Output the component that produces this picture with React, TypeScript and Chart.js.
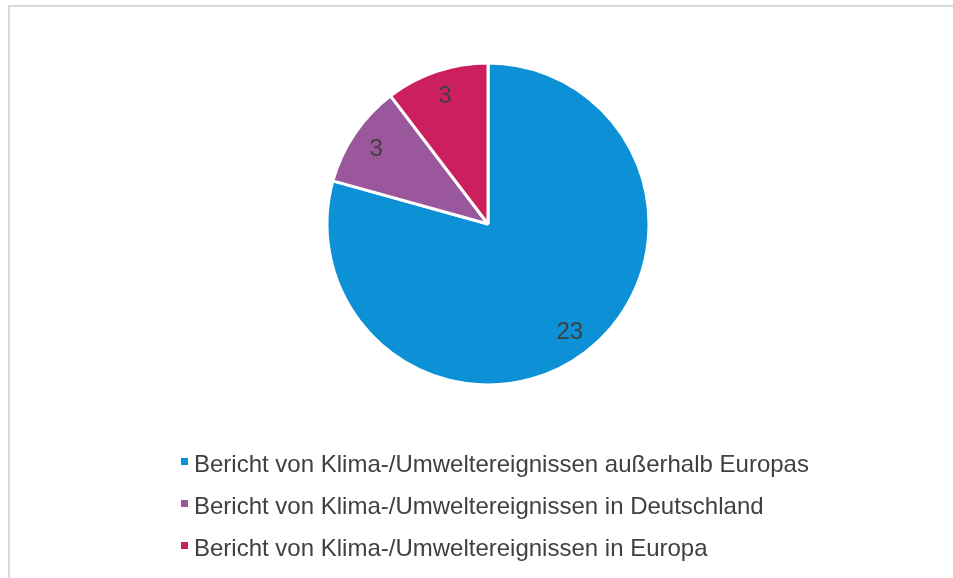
import React, { useEffect, useRef } from "react";
import { Chart, registerables } from "chart.js";

Chart.register(...registerables);

const categories = [
  "Bericht von Klima-/Umweltereignissen außerhalb Europas",
  "Bericht von Klima-/Umweltereignissen in Deutschland",
  "Bericht von Klima-/Umweltereignissen in Europa",
];
const values = [23, 3, 3];
const colors = ["#0C90D6", "#9B579C", "#CC1F5D"];

const FONT = "'Liberation Sans', Arial, sans-serif";
const TEXT = "#404040";

const labelPlugin = {
  id: "pieLabels",
  afterDatasetsDraw(chart: any) {
    const ctx = chart.ctx;
    const meta = chart.getDatasetMeta(0);
    ctx.save();
    ctx.font = `24px ${FONT}`;
    ctx.fillStyle = TEXT;
    ctx.textAlign = "center";
    ctx.textBaseline = "middle";
    meta.data.forEach((arc: any, i: number) => {
      const { x, y, startAngle, endAngle, outerRadius } = arc.getProps(
        ["x", "y", "startAngle", "endAngle", "outerRadius"],
        true
      );
      const mid = (startAngle + endAngle) / 2;
      const r = outerRadius * 0.84;
      ctx.fillText(String(chart.data.datasets[0].data[i]), x + Math.cos(mid) * r, y + Math.sin(mid) * r + 1);
    });
    ctx.restore();
  },
};

const legendPlugin = {
  id: "vertLegend",
  afterDraw(chart: any) {
    const ctx = chart.ctx;
    const labels: string[] = chart.data.labels;
    const bg: string[] = chart.data.datasets[0].backgroundColor;
    ctx.save();
    ctx.font = `24px ${FONT}`;
    ctx.textBaseline = "alphabetic";
    ctx.textAlign = "left";
    const x0 = 171;
    const base0 = 465;
    const step = 42;
    labels.forEach((lab, i) => {
      const b = base0 + i * step;
      ctx.fillStyle = bg[i];
      ctx.fillRect(x0, b - 14, 7, 7);
      ctx.fillStyle = TEXT;
      ctx.fillText(lab, x0 + 13, b);
    });
    ctx.restore();
  },
};

export default function App() {
  const ref = useRef<HTMLCanvasElement>(null);
  useEffect(() => {
    if (!ref.current) return;
    const chart = new Chart(ref.current, {
      type: "pie",
      data: {
        labels: categories,
        datasets: [
          {
            data: values,
            backgroundColor: colors,
            borderColor: "#FFFFFF",
            borderWidth: 3,
          },
        ],
      },
      options: {
        animation: false,
        responsive: false,
        radius: 161,
        layout: { padding: { left: 13, right: 0, top: 10, bottom: 147 } },
        plugins: {
          legend: { display: false },
          tooltip: { enabled: false },
        },
      } as any,
      plugins: [labelPlugin, legendPlugin],
    });
    return () => chart.destroy();
  }, []);
  return (
    <div
      style={{
        position: "fixed",
        left: 8,
        top: 5,
        width: 945,
        height: 573,
        overflow: "hidden",
        background: "#FFFFFF",
      }}
    >
      <div
        style={{
          position: "absolute",
          left: 0,
          top: 0,
          width: 970,
          height: 600,
          border: "2px solid #D9D9D9",
          boxSizing: "border-box",
        }}
      >
        <canvas ref={ref} width={943} height={571} style={{ display: "block" }} />
      </div>
    </div>
  );
}
